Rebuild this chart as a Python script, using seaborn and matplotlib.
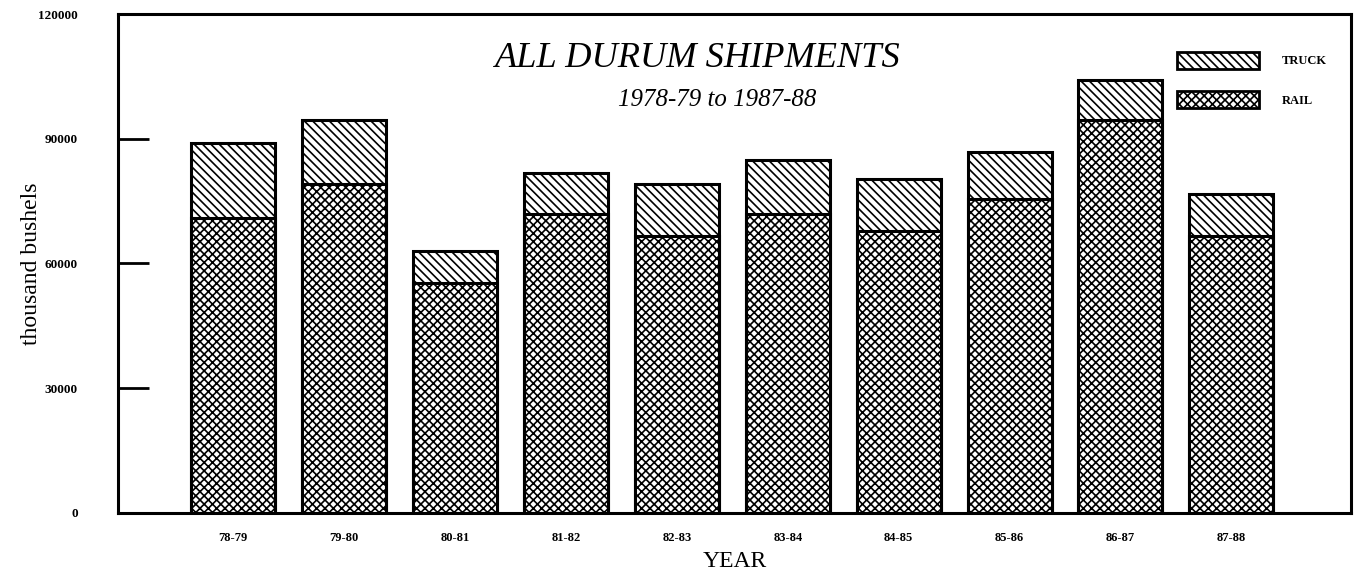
import matplotlib
matplotlib.use("Agg")
import matplotlib.pyplot as plt
import seaborn as sns
import pandas as pd
from matplotlib.patches import Patch

# === Data ===
years = ["78-79", "79-80", "80-81", "81-82", "82-83",
         "83-84", "84-85", "85-86", "86-87", "87-88"]
rail = [70900, 79000, 55400, 72000, 66500, 72000, 67700, 75600, 94600, 66500]
total = [88900, 94600, 63100, 81800, 79000, 85000, 80400, 86900, 104200, 76800]

df = pd.DataFrame({"year": years, "rail": rail, "total": total})

# === Style ===
sns.set_theme(style="white")
plt.rcParams["font.family"] = ["Liberation Serif", "DejaVu Serif"]
plt.rcParams["hatch.linewidth"] = 1.2
for k in ["text.color", "axes.labelcolor", "xtick.color", "ytick.color"]:
    plt.rcParams[k] = "black"

TRUCK_HATCH = "\\\\\\\\"
RAIL_HATCH = "xxxx"

fig, ax = plt.subplots(figsize=(13.61, 5.77), dpi=100)
fig.subplots_adjust(left=0.0867, right=0.9927, bottom=0.111, top=0.9757)

# === Bars: total height first (truck on top), rail drawn over it ===
sns.barplot(data=df, x="year", y="total", color="white", edgecolor="black",
            linewidth=2.2, width=0.757, hatch=TRUCK_HATCH, ax=ax)
sns.barplot(data=df, x="year", y="rail", color="white", edgecolor="black",
            linewidth=2.2, width=0.757, hatch=RAIL_HATCH, ax=ax)

ax.set_ylim(0, 120000)
ax.set_xlim(-1.04, 10.08)
ax.set_yticks([0, 30000, 60000, 90000, 120000])
ax.set_yticklabels(["0", "30000", "60000", "90000", "120000"],
                   fontsize=9.5, fontweight="bold")
ax.tick_params(axis="y", direction="in", length=22, width=2,
               left=True, pad=29)
ax.tick_params(axis="x", length=0, labelsize=9, pad=14)
for lab in ax.get_xticklabels():
    lab.set_fontweight("bold")

for s in ax.spines.values():
    s.set_visible(True)
    s.set_color("black")
    s.set_linewidth(2.2)

ax.set_xlabel("YEAR", fontsize=17, labelpad=5)
ax.set_ylabel("thousand bushels", fontsize=17, labelpad=-3)

# === Titles ===
ax.text(0.47, 0.91, "ALL DURUM SHIPMENTS", transform=ax.transAxes,
        ha="center", va="center", fontsize=26.2, fontstyle="italic")
ax.text(0.486, 0.828, "1978-79 to 1987-88", transform=ax.transAxes,
        ha="center", va="center", fontsize=17.9, fontstyle="italic")

# === Legend ===
handles = [Patch(facecolor="white", edgecolor="black", hatch=TRUCK_HATCH, linewidth=2),
           Patch(facecolor="white", edgecolor="black", hatch=RAIL_HATCH, linewidth=2)]
fig.legend(handles, ["TRUCK", "RAIL"], loc="upper left",
           bbox_to_anchor=(0.8648, 0.91), frameon=False, borderpad=0,
           borderaxespad=0, handlelength=6.6, handleheight=1.7,
           labelspacing=1.8, handletextpad=1.8,
           prop={"size": 9, "weight": "bold"})

plt.savefig("out.png", dpi=100)
